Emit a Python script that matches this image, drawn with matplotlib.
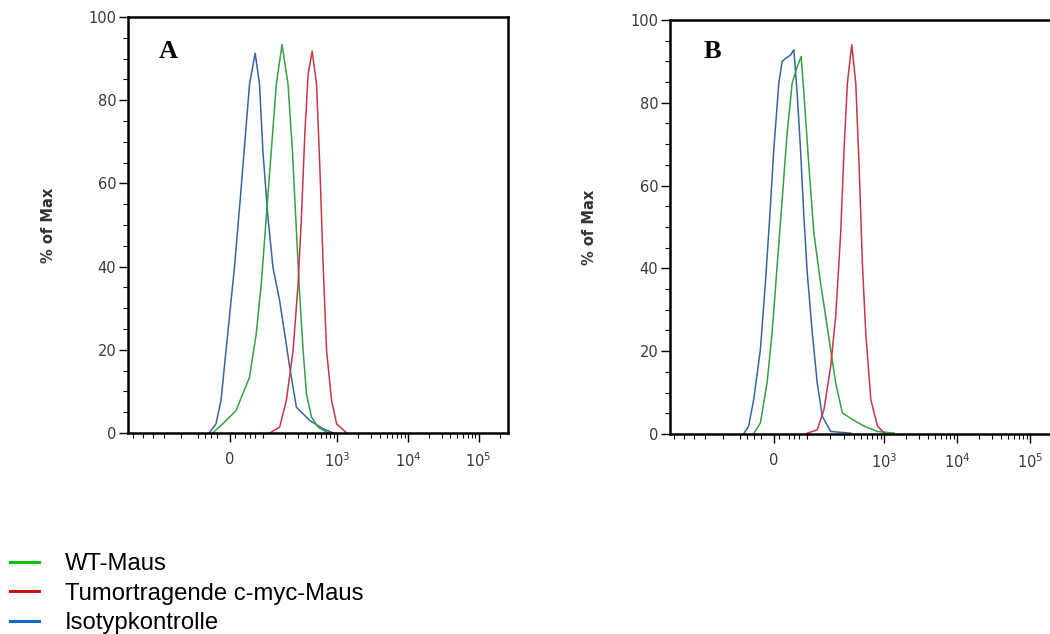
import matplotlib
matplotlib.use("Agg")
import matplotlib.pyplot as plt
from matplotlib.lines import Line2D
import numpy as np

# x values are positions on the biexponential display axis (0 -> 0, 10^3 -> 1.514, one decade = 1.0)
# panel A
a_iso_x = [-0.294, -0.199, -0.128, -0.081, -0.033, 0.062, 0.142, 0.218, 0.275, 0.355, 0.417, 0.464,
           0.536, 0.607, 0.701, 0.773, 0.844, 0.938, 1.128, 1.318, 1.46]
a_iso_y = [0, 2.2, 7.8, 15.8, 23.8, 39.8, 55.8, 71.8, 83.8, 91.3, 83.8, 67.8,
           51.8, 39.8, 31.8, 23.8, 15.8, 6.2, 3.0, 1.0, 0]
a_wt_x = [-0.246, -0.104, 0.085, 0.275, 0.370, 0.441, 0.512, 0.583, 0.654, 0.735, 0.820, 0.882,
          0.929, 0.976, 1.033, 1.081, 1.152, 1.246, 1.389]
a_wt_y = [0, 2.2, 5.4, 13.4, 23.8, 35.8, 51.8, 67.8, 83.8, 93.4, 83.8, 67.8,
          51.8, 35.8, 19.8, 9.4, 3.8, 1.4, 0]
a_myc_x = [0.559, 0.701, 0.796, 0.891, 0.962, 1.009, 1.057, 1.104, 1.161, 1.223, 1.270, 1.318,
           1.365, 1.436, 1.507, 1.649]
a_myc_y = [0, 1.4, 7.8, 19.8, 35.8, 51.8, 71.8, 86.2, 91.8, 83.8, 63.8, 39.8,
           19.8, 7.8, 2.2, 0]

# panel B
b_iso_x = [-0.413, -0.344, -0.275, -0.183, -0.115, -0.055, 0.0, 0.069, 0.115, 0.161, 0.229, 0.275,
           0.321, 0.367, 0.413, 0.459, 0.528, 0.596, 0.665, 0.780, 1.055]
b_iso_y = [0, 1.9, 8.3, 20.4, 36.4, 52.5, 68.6, 84.7, 90.0, 90.7, 91.5, 92.8,
           82.3, 68.6, 52.5, 38.9, 24.4, 12.3, 4.3, 0.6, 0.2]
b_wt_x = [-0.275, -0.183, -0.092, -0.023, 0.046, 0.115, 0.183, 0.252, 0.321, 0.376, 0.413, 0.482,
          0.550, 0.642, 0.711, 0.780, 0.849, 0.940, 1.078, 1.239, 1.422, 1.651]
b_wt_y = [0, 2.7, 12.3, 24.4, 40.5, 56.6, 72.6, 84.7, 88.7, 91.2, 82.3, 64.6,
          48.5, 36.4, 28.4, 20.4, 12.3, 5.1, 3.5, 1.9, 0.6, 0.2]
b_myc_x = [0.459, 0.596, 0.688, 0.780, 0.849, 0.917, 0.963, 1.009, 1.069, 1.124, 1.170, 1.216,
           1.261, 1.330, 1.422, 1.514]
b_myc_y = [0.2, 1.0, 5.9, 16.3, 28.4, 48.5, 68.6, 84.7, 94.0, 84.7, 64.6, 40.5,
           24.4, 8.3, 1.9, 0.2]

x_tick_labels = ["0", "$10^3$", "$10^4$", "$10^5$"]
legend_labels = ["WT-Maus", "Tumortragende c-myc-Maus", "Isotypkontrolle"]
panel_labels = ["A", "B"]

c_wt, c_myc, c_iso = "#35a045", "#c83545", "#3565a5"
leg_colors = ["#10c010", "#c81010", "#1068c8"]

major_pos = [0, 1.514, 2.514, 3.514]
minor_pos = [-1.37, -1.23, -1.09, -0.94, -0.70, -0.46, -0.36, -0.27, -0.18,
             0.07, 0.21, 0.28, 0.35, 0.46]
minor_pos += [0.46 + 1.054 * np.log10(k) for k in range(2, 10)]
for base in [1.514, 2.514, 3.514]:
    minor_pos += [base + np.log10(k) for k in range(2, 10)]

fig = plt.figure(figsize=(10.5, 6.34), dpi=100)
axA = fig.add_axes([0.1219, 0.3170, 0.3619, 0.6562])
axB = fig.add_axes([0.6381, 0.3155, 0.3733, 0.6530])

panels = [
    (axA, (a_wt_x, a_wt_y), (a_myc_x, a_myc_y), (a_iso_x, a_iso_y), (-1.443, 3.93), (0.105, 0.916), -0.19),
    (axB, (b_wt_x, b_wt_y), (b_myc_x, b_myc_y), (b_iso_x, b_iso_y), (-1.422, 3.95), (0.107, 0.923), -0.187),
]

for i, (ax, wt, myc, iso, xl, lab_xy, ylab_x) in enumerate(panels):
    ax.plot(iso[0], iso[1], color=c_iso, lw=1.1)
    ax.plot(wt[0], wt[1], color=c_wt, lw=1.1)
    ax.plot(myc[0], myc[1], color=c_myc, lw=1.1)
    ax.set_xlim(*xl)
    ax.set_ylim(0, 100)
    ax.set_yticks([0, 20, 40, 60, 80, 100])
    ax.set_yticks(np.arange(0, 101, 5), minor=True)
    ax.set_xticks(major_pos)
    ax.set_xticklabels(x_tick_labels)
    ax.set_xticks([p for p in minor_pos if xl[0] < p < xl[1]], minor=True)
    ax.tick_params(axis="both", which="major", direction="out", length=6.5, width=1.0,
                   labelsize=10.5, labelcolor="#3a3a3a")
    ax.tick_params(axis="both", which="minor", direction="out", length=3.5, width=0.8)
    ax.tick_params(axis="x", which="major", pad=7)
    ax.tick_params(axis="y", which="major", pad=2)
    for s in ax.spines.values():
        s.set_linewidth(1.8)
    ax.set_ylabel("% of Max", fontsize=10.5, fontweight="bold", color="#333333")
    ax.yaxis.set_label_coords(ylab_x, 0.5)
    ax.text(lab_xy[0], lab_xy[1], panel_labels[i], transform=ax.transAxes, ha="center", va="center",
            fontsize=19, fontweight="bold", family="Liberation Serif")

handles = [Line2D([0], [0], color=c, lw=2.2) for c in leg_colors]
fig.legend(handles, legend_labels, loc="upper left", bbox_to_anchor=(10 / 1050, 1 - 553 / 634),
           frameon=False, borderpad=0, borderaxespad=0, handlelength=1.22, handletextpad=1.08,
           labelspacing=0.32, prop={"family": "Liberation Sans", "size": 17.2})

fig.savefig("out.png", dpi=100)
